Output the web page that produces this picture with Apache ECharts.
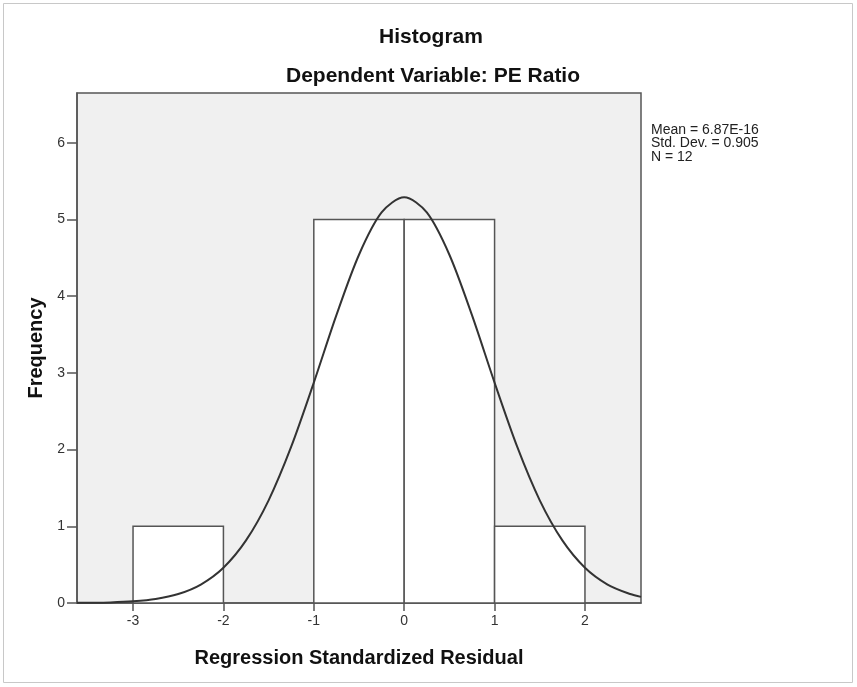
<!DOCTYPE html>
<html><head><meta charset="utf-8">
<script src="https://cdn.jsdelivr.net/npm/echarts@6/dist/echarts.min.js"></script>
<style>html,body{margin:0;padding:0;background:#fff}#c{width:857px;height:687px}</style>
</head><body><div id="c"></div>
<script>
// Histogram bins: [lower, upper, frequency]
const binLower = [-3, -2, -1, 0, 1];
const binUpper = [-2, -1, 0, 1, 2];
const binFreq  = [1, 0, 5, 5, 1];
// Normal curve points
const curveX = [-3.62, -3.5, -3.25, -3, -2.75, -2.5, -2.25, -2, -1.75, -1.5, -1.25, -1, -0.75, -0.5, -0.25, 0, 0.25, 0.5, 0.75, 1, 1.25, 1.5, 1.75, 2, 2.25, 2.5, 2.62];
const curveY = [0.002, 0.003, 0.008, 0.022, 0.052, 0.117, 0.241, 0.460, 0.816, 1.339, 2.038, 2.873, 3.753, 4.541, 5.092, 5.29, 5.092, 4.541, 3.753, 2.873, 2.038, 1.339, 0.816, 0.460, 0.241, 0.117, 0.080];
const xTicks = [-3, -2, -1, 0, 1, 2];
const yTicks = [0, 1, 2, 3, 4, 5, 6];
const statsLines = ['Mean = 6.87E-16', 'Std. Dev. = 0.905', 'N = 12'];

const chart = echarts.init(document.getElementById('c'));
const FONT = 'Liberation Sans, Arial, sans-serif';
chart.setOption({
  animation: false,
  backgroundColor: '#fff',
  title: [
    {text: 'Histogram', left: 426, top: 22, textAlign: 'center',
     textStyle: {fontFamily: FONT, fontSize: 21, fontWeight: 'bold', color: '#111'}},
    {text: 'Dependent Variable: PE Ratio', left: 428, top: 61, textAlign: 'center',
     textStyle: {fontFamily: FONT, fontSize: 21, fontWeight: 'bold', color: '#111'}}
  ],
  graphic: [
    {type: 'rect', shape: {x: 3.5, y: 3.5, width: 849, height: 679}, style: {fill: 'none', stroke: '#c8c8c8', lineWidth: 1}, silent: true},
    {type: 'text', left: 651, top: 123, style: {text: statsLines.join('\n'), font: '14px ' + FONT, fill: '#222', lineHeight: 13.5}}
  ],
  grid: {left: 77, right: 216, top: 93, bottom: 84, show: true, backgroundColor: '#f0f0f0', borderColor: '#555', borderWidth: 1.5},
  xAxis: {
    type: 'value', min: -3.62, max: 2.62,
    name: 'Regression Standardized Residual', nameLocation: 'middle', nameGap: 45,
    nameTextStyle: {fontFamily: FONT, fontSize: 20, fontWeight: 'bold', color: '#111'},
    axisLine: {show: true, onZero: false, lineStyle: {color: '#555', width: 1.5}},
    axisTick: {show: true, customValues: xTicks, length: 8, lineStyle: {color: '#555', width: 1.5}},
    axisLabel: {customValues: xTicks, fontFamily: FONT, fontSize: 14, color: '#333', margin: 11},
    splitLine: {show: false}
  },
  yAxis: {
    type: 'value', min: 0, max: 6.65,
    name: 'Frequency', nameLocation: 'middle', nameGap: 30,
    nameTextStyle: {fontFamily: FONT, fontSize: 20, fontWeight: 'bold', color: '#111'},
    axisLine: {show: true, onZero: false, lineStyle: {color: '#555', width: 1.5}},
    axisTick: {show: true, customValues: yTicks, length: 10, lineStyle: {color: '#555', width: 1.5}},
    axisLabel: {customValues: yTicks, fontFamily: FONT, fontSize: 14, color: '#333', margin: 12},
    splitLine: {show: false}
  },
  series: [
    {
      type: 'custom',
      data: binLower.map((l, i) => [l, binUpper[i], binFreq[i]]),
      encode: {x: [0, 1], y: 2},
      renderItem: function (params, api) {
        if (api.value(2) === 0) return null;
        const p0 = api.coord([api.value(0), 0]);
        const p1 = api.coord([api.value(1), api.value(2)]);
        return {
          type: 'rect',
          shape: {x: p0[0], y: p1[1], width: p1[0] - p0[0], height: p0[1] - p1[1]},
          style: {fill: '#fff', stroke: '#555', lineWidth: 1.5}
        };
      },
      z: 2
    },
    {
      type: 'line',
      data: curveX.map((x, i) => [x, curveY[i]]),
      smooth: 0.3, showSymbol: false,
      lineStyle: {color: '#333', width: 2},
      z: 3
    }
  ]
});
</script></body></html>
